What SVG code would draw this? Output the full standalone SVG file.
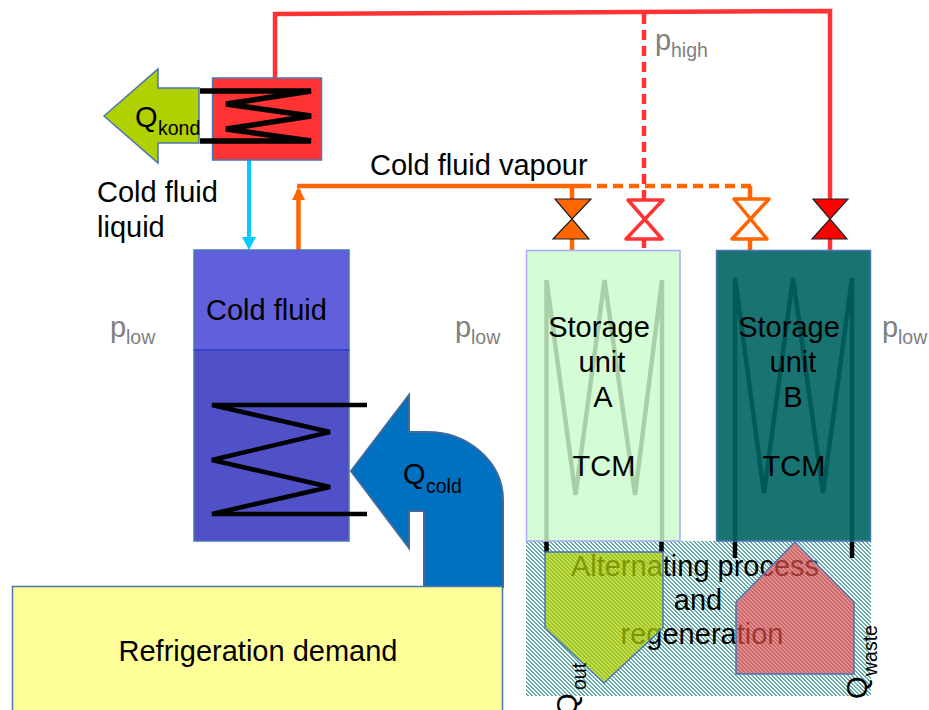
<svg xmlns="http://www.w3.org/2000/svg" width="929" height="710" viewBox="0 0 929 710">
<style>
text{font-family:"Liberation Sans",Arial,sans-serif;font-size:29px;fill:#000}
.m{text-anchor:middle}
.s{font-size:19.500px}
.g{fill:#808080}
.b{stroke:#4a76b4;stroke-width:1.5}
.coil{fill:none;stroke:#000;stroke-width:4.5;stroke-linejoin:bevel}
.r{fill:none;stroke:#ff3333;stroke-width:4.500}
.o{fill:none;stroke:#ff6600;stroke-width:4.500}
.d{stroke-dasharray:10 6}
</style>
<defs>
<pattern id="hatch" width="4" height="4" patternUnits="userSpaceOnUse" shape-rendering="crispEdges">
<rect width="4" height="4" fill="#fff"/>
<path d="M0 0h2v1h-2zM1 1h2v1h-2zM2 2h2v1h-2zM3 3h1v1h-1zM0 3h1v1h-1z" fill="#66adad"/>
</pattern>
</defs>
<g id="connectors">
<path class="r" d="M275 78L275 14L830 11L830 199"/>
<path class="r d" d="M644 14V199"/>
<path class="r" d="M644 239V248M830 239V250"/>
<path class="o" d="M298.500 250V190M297 186H581"/>
<path class="o d" d="M581 186H752"/>
<path class="o" d="M572 186V199M572 239V250M750 186V198M750 240V250"/>
<path d="M298.500 187L305 200H292Z" fill="#ff6600"/>
<path d="M249 160V240" fill="none" stroke="#00ccff" stroke-width="4"/>
<path d="M249 250L242 237H256Z" fill="#00ccff"/>
</g>
<g id="valve-a-vapour"><path d="M555 199H591L553 239H589Z" fill="#ff6600" stroke="#222" stroke-width="1.200"/></g>
<g id="valve-a-high"><path d="M628 200H663L626 239H662Z" fill="#fff" stroke="#ff3333" stroke-width="3.500" stroke-linejoin="round"/></g>
<g id="valve-b-vapour"><path d="M734 199H769L732 239H767Z" fill="#fff" stroke="#ff6600" stroke-width="3.500" stroke-linejoin="round"/></g>
<g id="valve-b-high"><path d="M813 199H848L812 239H847Z" fill="#ff0000" stroke="#222" stroke-width="1.200"/></g>
<g id="condenser">
<rect class="b" x="212.500" y="78" width="109" height="82" fill="#ff3333"/>
<path class="coil" style="stroke-width:5.500" d="M200 91H311L226 104L311 116L226 129L311 141H200"/>
</g>
<g id="q-kond">
<path class="b" d="M104 116L158 69V88H199V143H158V163Z" fill="#b0d000"/>
<text x="135" y="127">Q</text><text class="s" x="158" y="135">kond</text>
</g>
<g id="cold-fluid-liquid-label"><text x="97" y="202">Cold fluid</text><text x="97" y="237">liquid</text></g>
<g id="cold-fluid-vapour-label"><text x="370" y="175">Cold fluid vapour</text></g>
<g id="p-high"><text class="g" x="655" y="50">p</text><text class="g s" x="671" y="57">high</text></g>
<g id="p-low-1"><text class="g" x="110" y="337">p</text><text class="g s" x="126" y="344">low</text></g>
<g id="p-low-2"><text class="g" x="455" y="337">p</text><text class="g s" x="471" y="344">low</text></g>
<g id="p-low-3"><text class="g" x="882" y="337">p</text><text class="g s" x="898" y="344">low</text></g>
<g id="cold-fluid-tank">
<rect class="b" x="194" y="250" width="155" height="100" fill="#6060dd"/>
<rect class="b" x="194" y="350" width="155" height="191" fill="#5050c8"/>
<path d="M194 350H349" stroke="#3333cc" stroke-width="1.500"/>
<text x="206" y="320">Cold fluid</text>
<path class="coil" d="M367 405H212L330 432L212 460L330 487L212 514H367"/>
</g>
<g id="q-cold">
<path d="M351 471L409 395V432H427A76 68 0 0 1 503 500V587H424V511H409V548Z" fill="#0070c0" stroke="#3d6b9c" stroke-width="2"/>
<text x="403" y="484">Q</text><text class="s" x="426" y="493">cold</text>
</g>
<g id="refrigeration-demand">
<rect class="b" x="12.500" y="586.500" width="490" height="130" fill="#ffff99"/>
<text class="m" x="258" y="661">Refrigeration demand</text>
</g>
<g id="alternating-process">
<rect x="526" y="541" width="345" height="155" fill="url(#hatch)"/>
<text class="m" x="695" y="576">Alternating process</text>
<text class="m" x="698" y="610">and</text>
<text class="m" x="702" y="644">regeneration</text>
</g>
<g id="storage-a">
<path d="M546.500 541V552M661.500 541V552" stroke="#000" stroke-width="4.500"/>
<rect x="526.500" y="250.500" width="153.500" height="290.500" fill="#d5fdd5" stroke="#aaaaff" stroke-width="1.500"/>
<path d="M546.500 541V280L575.500 495L604.500 280L635 495L662 280V541" fill="none" stroke="#a9cfa9" stroke-width="4.500" stroke-linejoin="bevel"/>
<text class="m" x="599" y="337">Storage</text><text class="m" x="602" y="372">unit</text><text class="m" x="603" y="407">A</text><text class="m" x="604" y="476">TCM</text>
</g>
<g id="storage-b">
<path d="M735 541V558M852 541V558" stroke="#000" stroke-width="4.500"/>
<rect x="716.500" y="250.500" width="154" height="290.500" fill="#1a7373" stroke="#4a76b4" stroke-width="1.500"/>
<path d="M735 541V278L764 493L793 278L823 493L852 278V541" fill="none" stroke="#005a5a" stroke-width="4.500" stroke-linejoin="bevel"/>
<text class="m" x="789" y="337">Storage</text><text class="m" x="793" y="372">unit</text><text class="m" x="793" y="407">B</text><text class="m" x="794" y="476">TCM</text>
</g>
<g id="q-out">
<path d="M545 552H663V628L604 683L545 628Z" fill="#b0d000" fill-opacity=".72" stroke="#4a76b4" stroke-width="1.500"/>
<text transform="rotate(-90 577 716)" x="577" y="716">Q</text>
<text class="s" transform="rotate(-90 586 690)" x="586" y="690">out</text>
</g>
<g id="q-waste">
<path d="M795 542L854 602V674H736V602Z" fill="#e85050" fill-opacity=".68" stroke="#4a76b4" stroke-width="1.500"/>
<text transform="rotate(-90 867 699)" x="867" y="699">Q</text>
<text class="s" transform="rotate(-90 877 676)" x="877" y="676">waste</text>
</g>
</svg>
